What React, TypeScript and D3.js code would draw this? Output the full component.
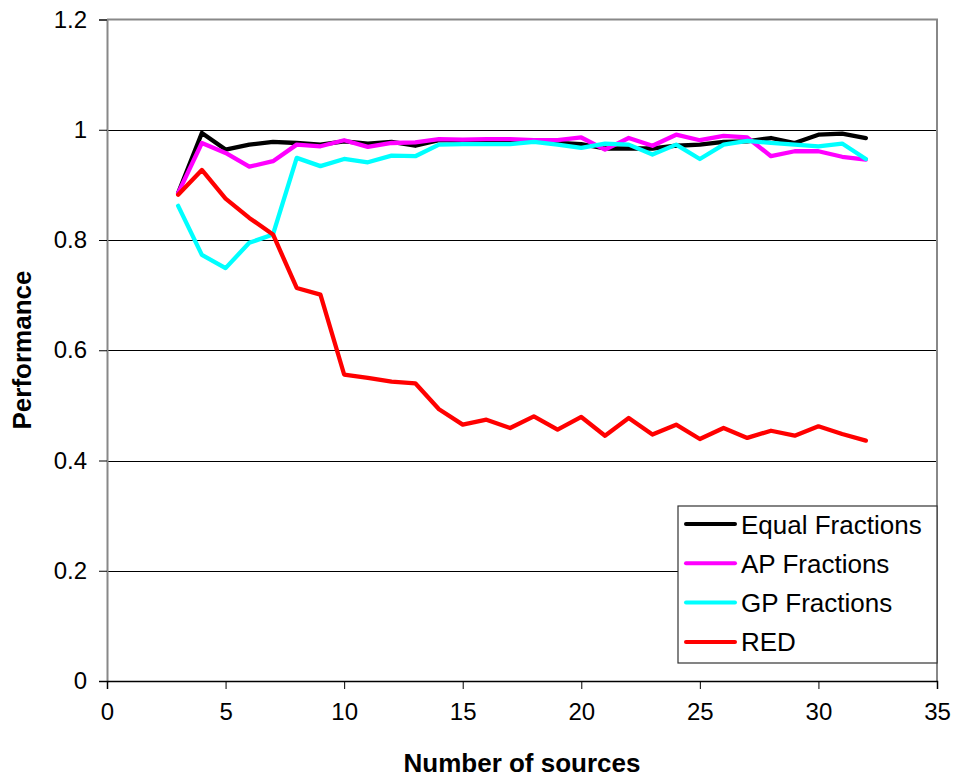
import * as d3 from "d3";
import { useEffect, useRef } from "react";

const sources = d3.range(3, 33);
const equalFractions = [0.885, 0.994, 0.964, 0.973, 0.978, 0.976, 0.973, 0.979, 0.975, 0.978, 0.971, 0.981, 0.980, 0.980, 0.981, 0.981, 0.976, 0.974, 0.966, 0.966, 0.966, 0.971, 0.973, 0.978, 0.979, 0.985, 0.976, 0.991, 0.993, 0.985];
const apFractions = [0.885, 0.976, 0.958, 0.933, 0.943, 0.973, 0.970, 0.981, 0.969, 0.976, 0.977, 0.983, 0.982, 0.983, 0.983, 0.981, 0.981, 0.986, 0.964, 0.985, 0.971, 0.991, 0.981, 0.989, 0.986, 0.952, 0.961, 0.961, 0.951, 0.946];
const gpFractions = [0.862, 0.773, 0.749, 0.795, 0.810, 0.949, 0.934, 0.947, 0.941, 0.953, 0.952, 0.973, 0.974, 0.974, 0.974, 0.978, 0.973, 0.967, 0.975, 0.973, 0.955, 0.973, 0.947, 0.973, 0.980, 0.976, 0.973, 0.970, 0.975, 0.947];
const red = [0.882, 0.927, 0.875, 0.840, 0.810, 0.713, 0.701, 0.556, 0.550, 0.543, 0.540, 0.493, 0.465, 0.474, 0.459, 0.480, 0.456, 0.479, 0.445, 0.477, 0.447, 0.465, 0.439, 0.459, 0.441, 0.454, 0.445, 0.462, 0.448, 0.436];

const seriesNames = ["Equal Fractions", "AP Fractions", "GP Fractions", "RED"];
const seriesColors = ["#000000", "#ff00ff", "#00ffff", "#ff0000"];
const seriesValues = [equalFractions, apFractions, gpFractions, red];

const xTicks = [0, 5, 10, 15, 20, 25, 30, 35];
const yTicks = [0, 0.2, 0.4, 0.6, 0.8, 1, 1.2];

const App = () => {
  const svgRef = useRef<SVGSVGElement | null>(null);
  const w = 956;
  const h = 781;
  const m = { top: 19.5, right: 19, bottom: 100, left: 107 };

  useEffect(() => {
    if (!svgRef.current) return;
    const svg = d3.select(svgRef.current);
    svg.selectAll("*").remove();
    const font = "Liberation Sans, Arial, sans-serif";

    const x = d3.scaleLinear().domain([0, 35]).range([m.left, w - m.right]);
    const y = d3.scaleLinear().domain([0, 1.2]).range([h - m.bottom, m.top]);

    // grid
    svg.append("g")
      .selectAll("line")
      .data(yTicks.filter(d => d > 0 && d < 1.2))
      .enter().append("line")
      .attr("x1", x(0)).attr("x2", x(35))
      .attr("y1", d => Math.round(y(d)) + 0.5)
      .attr("y2", d => Math.round(y(d)) + 0.5)
      .attr("stroke", "#000")
      .attr("stroke-width", 1);

    // border top / right
    svg.append("path")
      .attr("d", `M${x(0)},${y(1.2)}H${x(35)}V${y(0)}`)
      .attr("fill", "none")
      .attr("stroke", "#888")
      .attr("stroke-width", 2);

    // y axis
    const yAxis = svg.append("g")
      .attr("transform", `translate(${x(0)},0)`)
      .call(d3.axisLeft(y).tickValues(yTicks).tickSize(8).tickPadding(12).tickFormat(d => d3.format("")(+(+d).toFixed(1))));
    yAxis.select(".domain").attr("stroke", "#888").attr("stroke-width", 2);
    yAxis.selectAll(".tick line").attr("stroke", "#000").attr("stroke-width", 1);
    yAxis.selectAll(".tick text").attr("font-family", font).attr("font-size", 24).attr("fill", "#000");

    // x axis
    const xAxis = svg.append("g")
      .attr("transform", `translate(0,${y(0)})`)
      .call(d3.axisBottom(x).tickValues(xTicks).tickSize(8).tickPadding(14));
    xAxis.select(".domain").attr("stroke", "#000").attr("stroke-width", 1.5);
    xAxis.selectAll(".tick line").attr("stroke", "#000").attr("stroke-width", 1);
    xAxis.selectAll(".tick text").attr("font-family", font).attr("font-size", 24).attr("fill", "#000");

    // lines
    const line = d3.line<number>()
      .x((_, i) => x(sources[i]))
      .y(d => y(d));

    seriesValues.forEach((vals, i) => {
      svg.append("path")
        .datum(vals)
        .attr("d", line)
        .attr("fill", "none")
        .attr("stroke", seriesColors[i])
        .attr("stroke-width", 4.3)
        .attr("stroke-linejoin", "round")
        .attr("stroke-linecap", "round");
    });

    // axis titles
    svg.append("text")
      .attr("x", 522).attr("y", 772)
      .attr("text-anchor", "middle")
      .attr("font-family", font).attr("font-size", 26).attr("font-weight", "bold")
      .text("Number of sources");

    svg.append("text")
      .attr("transform", `translate(31,350) rotate(-90)`)
      .attr("text-anchor", "middle")
      .attr("font-family", font).attr("font-size", 26).attr("font-weight", "bold")
      .text("Performance");

    // legend
    const lg = svg.append("g").attr("transform", "translate(678,506)");
    lg.append("rect")
      .attr("width", 259).attr("height", 157)
      .attr("fill", "#fff").attr("stroke", "#333").attr("stroke-width", 1.2);
    seriesNames.forEach((name, i) => {
      const yy = 18 + i * 39.3;
      lg.append("line")
        .attr("x1", 8).attr("x2", 57)
        .attr("y1", yy).attr("y2", yy)
        .attr("stroke", seriesColors[i]).attr("stroke-width", 4).attr("stroke-linecap", "round");
      lg.append("text")
        .attr("x", 63).attr("y", yy + 9.5)
        .attr("font-family", font).attr("font-size", 26).attr("fill", "#000")
        .text(name);
    });
  }, []);

  return (
    <svg ref={svgRef} width={w} height={h} style={{ position: "absolute", left: 0, top: 0, background: "#fff" }}></svg>
  );
};

export default App;
